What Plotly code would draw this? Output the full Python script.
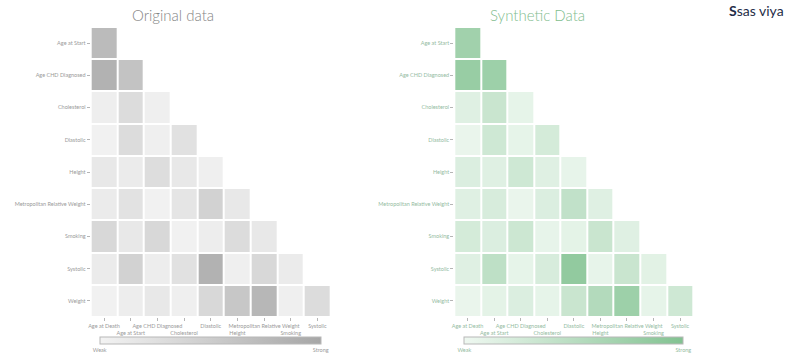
import plotly.graph_objects as go

# Variables in the correlation triangle
row_vars = ["Age at Start", "Age CHD Diagnosed", "Cholesterol", "Diastolic", "Height",
            "Metropolitan Relative Weight", "Smoking", "Systolic", "Weight"]
col_vars = ["Age at Death", "Age at Start", "Age CHD Diagnosed", "Cholesterol", "Diastolic",
            "Height", "Metropolitan Relative Weight", "Smoking", "Systolic"]

# Association strength (0 = weak, 1 = strong), lower triangle, one list per row
original_rows = [
    [0.73],
    [0.84, 0.62],
    [0.06, 0.30, 0.05],
    [0.03, 0.30, 0.05, 0.24],
    [0.14, 0.11, 0.28, 0.14, 0.05],
    [0.10, 0.22, 0.03, 0.18, 0.43, 0.14],
    [0.35, 0.14, 0.35, 0.03, 0.08, 0.30, 0.14],
    [0.10, 0.43, 0.08, 0.24, 0.84, 0.05, 0.35, 0.11],
    [0.03, 0.08, 0.14, 0.05, 0.35, 0.57, 0.78, 0.05, 0.30],
]
synthetic_rows = [
    [0.72],
    [0.80, 0.75],
    [0.15, 0.35, 0.08],
    [0.05, 0.30, 0.08, 0.25],
    [0.18, 0.15, 0.30, 0.15, 0.07],
    [0.15, 0.22, 0.05, 0.18, 0.42, 0.15],
    [0.25, 0.18, 0.32, 0.07, 0.10, 0.35, 0.15],
    [0.15, 0.45, 0.08, 0.22, 0.85, 0.07, 0.35, 0.12],
    [0.05, 0.10, 0.18, 0.08, 0.35, 0.55, 0.75, 0.08, 0.30],
]

legend_labels = ["Weak", "Strong"]
titles = ["Original data", "Synthetic Data"]

W, H = 787, 360


def full_matrix(rows):
    n = len(col_vars)
    return [r + [None] * (n - len(r)) for r in rows]


def px_x(p):
    return p / W


def px_y(p):
    return 1 - p / H


gray_scale = [[0, "#f3f3f3"], [1, "#a6a6a6"]]
green_scale = [[0, "#eff8f1"], [1, "#82c291"]]

tick_text = [c if i % 2 == 0 else "<br>" + c for i, c in enumerate(col_vars)]

fig = go.Figure()

fig.add_trace(go.Heatmap(
    z=full_matrix(original_rows), x=col_vars, y=row_vars,
    xaxis="x", yaxis="y", coloraxis="coloraxis",
    xgap=2, ygap=2, hoverongaps=False,
))
fig.add_trace(go.Heatmap(
    z=full_matrix(synthetic_rows), x=col_vars, y=row_vars,
    xaxis="x2", yaxis="y2", coloraxis="coloraxis2",
    xgap=2, ygap=2, hoverongaps=False,
))


def axis_pair(domain_x, label_color):
    xa = dict(
        domain=domain_x, type="category", categoryorder="array", categoryarray=col_vars,
        tickvals=col_vars, ticktext=tick_text, tickangle=0,
        ticks="outside", ticklen=3, tickcolor="#b5b5b5", tickwidth=1,
        tickfont=dict(size=5.5, color=label_color, family="Lato"),
        showgrid=False, zeroline=False, showline=False, fixedrange=True,
    )
    ya = dict(
        domain=[px_y(317), px_y(27)], type="category", categoryorder="array",
        categoryarray=row_vars, autorange="reversed",
        ticks="outside", ticklen=3, tickcolor="#b5b5b5", tickwidth=1,
        tickfont=dict(size=5.5, color=label_color, family="Lato"),
        showgrid=False, zeroline=False, showline=False, fixedrange=True,
    )
    return xa, ya


xa1, ya1 = axis_pair([px_x(88), px_x(329)], "#9a9a9a")
xa2, ya2 = axis_pair([px_x(453), px_x(693)], "#94bb9f")
ya1["anchor"] = "x"
xa1["anchor"] = "y"
ya2["anchor"] = "x2"
xa2["anchor"] = "y2"


def colorbar(cx, length, label_color):
    return dict(
        orientation="h", x=px_x(cx), xanchor="center", y=px_y(344), yanchor="middle",
        len=length / W, lenmode="fraction", thickness=7, xpad=0, ypad=0,
        outlinewidth=1, outlinecolor="#b8b8b8",
        tickvals=[0, 1], ticktext=legend_labels, ticks="",
        tickfont=dict(size=5.5, color=label_color, family="Lato"),
    )


fig.update_layout(
    width=W, height=H, margin=dict(l=0, r=0, t=0, b=0),
    paper_bgcolor="white", plot_bgcolor="white", showlegend=False,
    xaxis=xa1, yaxis=ya1, xaxis2=xa2, yaxis2=ya2,
    coloraxis=dict(colorscale=gray_scale, cmin=0, cmax=1,
                   colorbar=colorbar(208, 222, "#9a9a9a")),
    coloraxis2=dict(colorscale=green_scale, cmin=0, cmax=1,
                    colorbar=colorbar(573, 220, "#94bb9f")),
    annotations=[
        dict(text=titles[0], x=px_x(171), y=px_y(15), xref="paper", yref="paper",
             showarrow=False, xanchor="center", yanchor="middle",
             font=dict(size=15, color="#858585", family="Lato", weight=300)),
        dict(text=titles[1], x=px_x(537), y=px_y(15), xref="paper", yref="paper",
             showarrow=False, xanchor="center", yanchor="middle",
             font=dict(size=15, color="#7fbd8e", family="Lato", weight=300)),
        dict(text="<b>S</b>sas viya", x=px_x(786), y=px_y(0), xref="paper", yref="paper",
             showarrow=False, xanchor="right", yanchor="top",
             font=dict(size=14, color="#1f2d48", family="Lato")),
    ],
)

fig.write_html("out.html")
